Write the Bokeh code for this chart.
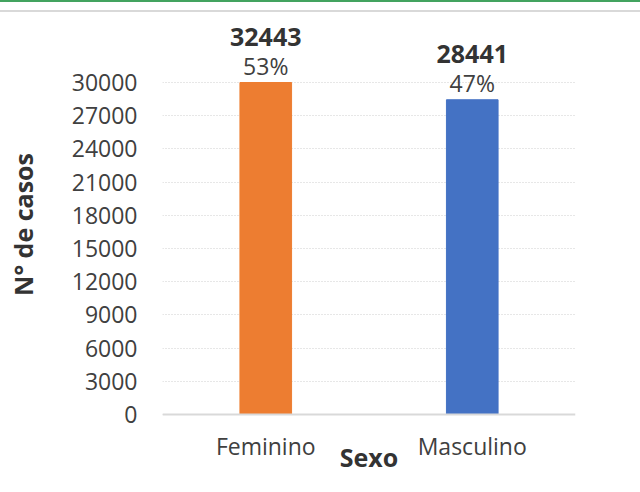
from bokeh.plotting import figure
from bokeh.models import ColumnDataSource, FixedTicker, Range1d, LabelSet, Div, Span
from bokeh.layouts import column
from bokeh.core.properties import value
from bokeh.embed import file_html
from bokeh.resources import INLINE

# ---- data ----
categories = ["Feminino", "Masculino"]
casos = [32443, 28441]
percent_labels = ["53%", "47%"]
bar_colors = ["#ED7D31", "#4472C4"]
y_ticks = [0, 3000, 6000, 9000, 12000, 15000, 18000, 21000, 24000, 27000, 30000]
axis_max = 30000
x_title = "Sexo"
y_title = "N° de casos"

FONT = "Open Sans"
TXT = "#404040"

# frame geometry (pixels)
frame_w, frame_h = 413, 412
px_to_max = 332      # pixels from baseline to the axis maximum
px_below_zero = 16   # frame extends a little below the baseline
y_start = -axis_max * px_below_zero / px_to_max
y_end = axis_max * (frame_h - px_below_zero) / px_to_max

src = ColumnDataSource(dict(
    cat=categories,
    top=[min(v, axis_max) for v in casos],
    value_txt=[str(v) for v in casos],
    pct=percent_labels,
    color=bar_colors,
))

header = Div(width=640, height=12, margin=0,
             styles={"border-top": "2px solid #43a35f",
                     "border-bottom": "2px solid #d9d9d9",
                     "box-sizing": "border-box", "height": "12px", "width": "640px"})

p = figure(x_range=categories, y_range=Range1d(y_start, y_end),
           frame_width=frame_w, frame_height=frame_h,
           min_border_left=162, min_border_top=6, min_border_right=57, min_border_bottom=10,
           output_backend="svg", toolbar_location=None, margin=0)
p.outline_line_color = None
p.background_fill_color = "white"
p.border_fill_color = "white"

# grid
p.xgrid.grid_line_color = None
p.ygrid.ticker = FixedTicker(ticks=y_ticks)
p.ygrid.grid_line_color = "#cfcfcf"
p.ygrid.grid_line_dash = "1 2"
p.ygrid.grid_line_width = 1

p.vbar(x="cat", top="top", width=0.25, color="color", source=src)

# baseline at zero
p.add_layout(Span(location=0, dimension="width", line_color="#d9d9d9", line_width=2))

p.add_layout(LabelSet(x="cat", y="top", text="pct", source=src, y_offset=8,
                      text_align="center", text_baseline="alphabetic",
                      text_font=value(FONT), text_font_size="23px", text_color=TXT))
p.add_layout(LabelSet(x="cat", y="top", text="value_txt", source=src, y_offset=37,
                      text_align="center", text_baseline="alphabetic",
                      text_font=value(FONT), text_font_size="25px", text_font_style="bold",
                      text_color="#333333"))

# y axis
p.yaxis.ticker = FixedTicker(ticks=y_ticks)
p.yaxis.axis_line_color = None
p.yaxis.major_tick_line_color = None
p.yaxis.minor_tick_line_color = None
p.yaxis.major_label_standoff = 19
p.yaxis.major_label_text_font = FONT
p.yaxis.major_label_text_font_size = "23px"
p.yaxis.major_label_text_color = TXT
p.yaxis.axis_label = y_title
p.yaxis.axis_label_text_font = FONT
p.yaxis.axis_label_text_font_size = "25px"
p.yaxis.axis_label_text_font_style = "bold"
p.yaxis.axis_label_text_color = "#333333"
p.yaxis.axis_label_standoff = 29

# x axis
p.xaxis.axis_line_color = None
p.xaxis.major_tick_line_color = None
p.xaxis.minor_tick_line_color = None
p.xaxis.major_label_standoff = -7
p.xaxis.major_label_text_font = FONT
p.xaxis.major_label_text_font_size = "23px"
p.xaxis.major_label_text_color = TXT
p.xaxis.axis_label = x_title
p.xaxis.axis_label_text_font = FONT
p.xaxis.axis_label_text_font_size = "25px"
p.xaxis.axis_label_text_font_style = "bold"
p.xaxis.axis_label_text_color = "#333333"
p.xaxis.axis_label_standoff = -25

layout = column(header, p, spacing=0, margin=0)
open("out.html", "w").write(file_html(layout, INLINE))
